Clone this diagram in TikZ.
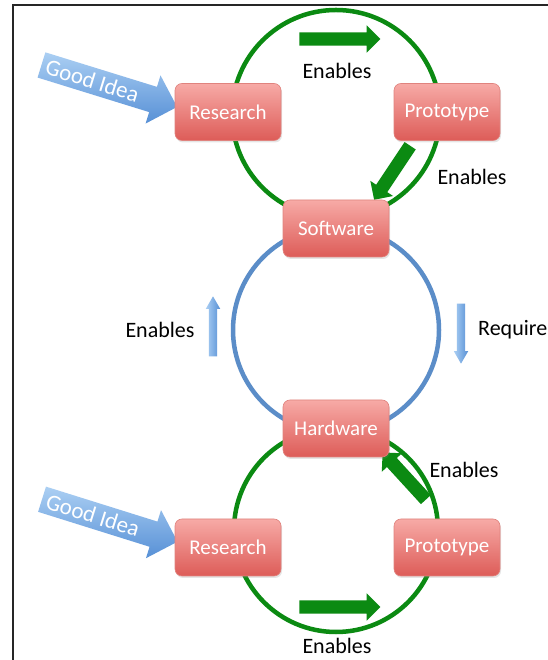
\documentclass[tikz,border=0pt]{standalone}
\usepackage{fontspec}
\setmainfont{Carlito}
\usetikzlibrary{shapes.arrows,shadows}
\definecolor{ngreen}{HTML}{0B8A12}
\definecolor{nblue}{HTML}{5B8DC8}
\definecolor{nskytop}{HTML}{ABCFF3}
\definecolor{nskybot}{HTML}{5790D6}
\definecolor{nredtop}{HTML}{F7AAA6}
\definecolor{nredbot}{HTML}{DD5C58}
\definecolor{nrededge}{HTML}{E0837E}

\tikzset{
 stage/.style={rectangle, rounded corners=7pt, minimum width=106pt, minimum height=57pt,
   top color=nredtop, bottom color=nredbot, draw=nrededge, line width=0.6pt,
   text=white, font=\fontsize{21}{24}\selectfont,
   drop shadow={opacity=0.2, shadow xshift=1pt, shadow yshift=-2pt}},
 flow/.style={single arrow, fill=ngreen, inner sep=6.5pt,
   single arrow head extend=7pt, minimum height=#1},
 nudge/.style={single arrow, left color=nskytop, right color=nskybot, inner sep=4pt,
   single arrow head extend=3pt, single arrow tip angle=60, minimum height=60pt},
 idea/.style={single arrow, top color=nskytop, bottom color=nskybot, inner sep=13pt,
   single arrow head extend=12pt, minimum height=142pt},
 ideatext/.style={text=white, font=\fontsize{23}{24}\selectfont, inner sep=0pt},
 caption/.style={font=\fontsize{22}{24}\selectfont}
}

\begin{document}
\begin{tikzpicture}[x=1pt, y=1pt]
 \useasboundingbox (0,0) rectangle (547,660);
 \fill[white] (0,0) rectangle (547,660);
 \draw[black!85, line width=1.6pt] (13,-20) rectangle (600,655);

 \draw[ngreen, line width=4.5pt] (336,546) circle (104);
 \draw[nblue, line width=4.5pt] (336,330) circle (103);
 \draw[ngreen, line width=4.5pt] (336,130) circle (102);

 \node[flow=81pt] (e1) at (336.5,621) {};
 \node[flow=65pt, rotate=236.3] (e2) at (394,490) {};
 \node[flow=64pt, rotate=132.5] (e3) at (406.5,181.5) {};
 \node[flow=81pt] (e4) at (336.5,53) {};
 \node[nudge, rotate=90] (up) at (213,330) {};
 \node[nudge, rotate=-90] (down) at (461,330) {};

 \node[idea, rotate=-17.2] (idea1) at (103,576) {};
 \node[ideatext, rotate=-17.2] (t1) at (92.5,579.3) {Good Idea};
 \node[idea, rotate=-17.4] (idea2) at (103.5,141.5) {};
 \node[ideatext, rotate=-17.4] (t2) at (93,144.8) {Good Idea};

 \node[stage] (res1) at (228,548) {Research};
 \node[stage] (pro1) at (447,548) {Prototype};
 \node[stage] (sw) at (336,431.5) {Software};
 \node[stage] (hw) at (336,231.5) {Hardware};
 \node[stage] (res2) at (228,112.5) {Research};
 \node[stage] (pro2) at (447,112.5) {Prototype};

 \node[caption] (l1) at (337,589) {Enables};
 \node[caption] (l2) at (472,483) {Enables};
 \node[caption] (l3) at (160,330) {Enables};
 \node[caption, anchor=west, inner sep=0pt] (l4) at (478,330) {Require};
 \node[caption] (l5) at (464,190) {Enables};
 \node[caption] (l6) at (337,14) {Enables};
\end{tikzpicture}
\end{document}
